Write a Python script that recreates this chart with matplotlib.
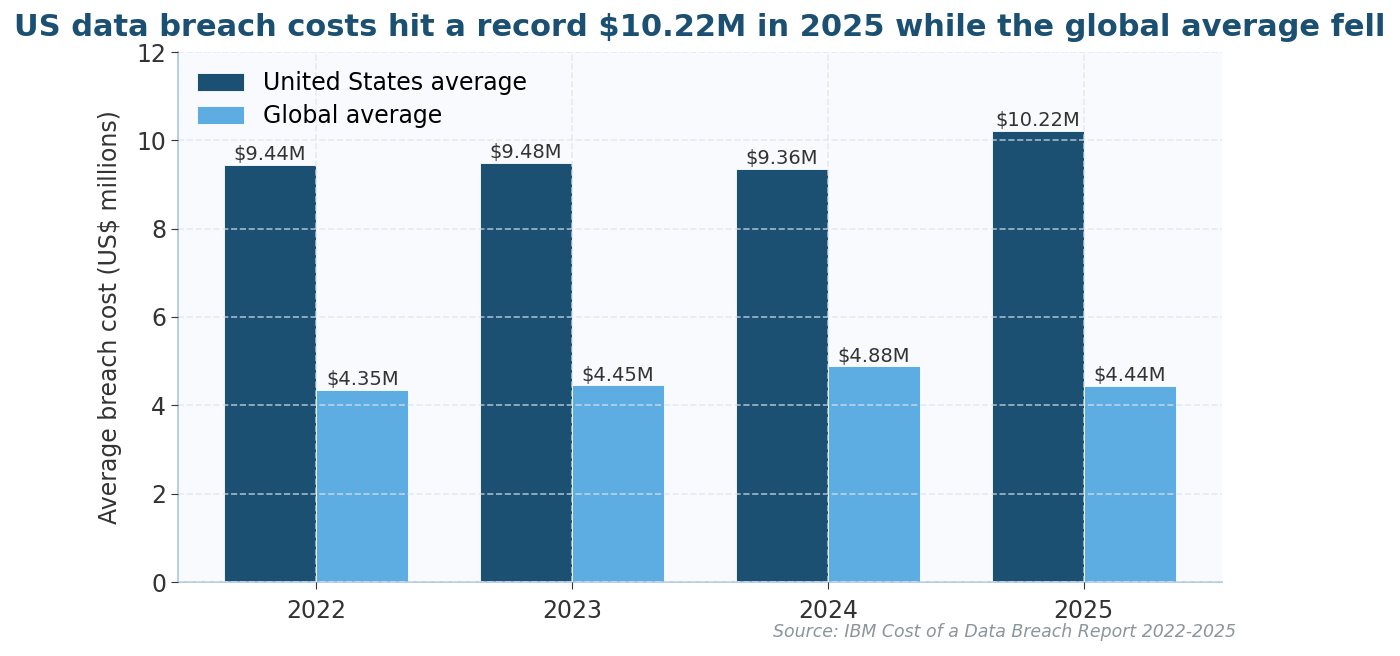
import matplotlib
matplotlib.use("Agg")
import matplotlib.pyplot as plt
import numpy as np

years = ["2022", "2023", "2024", "2025"]
us_avg = [9.44, 9.48, 9.36, 10.22]
global_avg = [4.35, 4.45, 4.88, 4.44]
series_labels = ["United States average", "Global average"]

fig = plt.figure(figsize=(14, 6.56), dpi=100)
ax = fig.add_axes([178/1400, 1-582/656, (1222-178)/1400, (582-52)/656])
ax.set_facecolor("#f8fafd")

x = np.arange(len(years))
w = 0.36
b1 = ax.bar(x - w/2, us_avg, w, color="#1b5072", label=series_labels[0], edgecolor="white", linewidth=0.6)
b2 = ax.bar(x + w/2, global_avg, w, color="#5dade2", label=series_labels[1], edgecolor="white", linewidth=0.6)

for bars, vals in ((b1, us_avg), (b2, global_avg)):
    for r, v in zip(bars, vals):
        ax.text(r.get_x() + r.get_width()/2, v + 0.02, f"${v:.2f}M", ha="center", va="bottom",
                fontsize=14, color="#333333")

ax.set_ylim(0, 12)
ax.set_xlim(-0.54, 3.54)
ax.set_xticks(x)
ax.set_xticklabels(years)
ax.set_yticks(range(0, 13, 2))
ax.tick_params(axis="both", labelsize=17, colors="#333333", length=5)
ax.tick_params(axis="x", pad=7)
ax.set_axisbelow(False)
ax.grid(True, linestyle="--", color="#dde4ee", alpha=0.7, linewidth=1.2)
for s in ("top", "right"):
    ax.spines[s].set_visible(False)
for s in ("left", "bottom"):
    ax.spines[s].set_color("#aac4e2")
    ax.spines[s].set_linewidth(1.2)

ax.set_ylabel("Average breach cost (US$ millions)", fontsize=17, color="#333333", labelpad=10)
fig.text(0.5, 1-28/656, "US data breach costs hit a record $10.22M in 2025 while the global average fell",
         ha="center", va="center", fontsize=22, fontweight="bold", color="#1b5072")

leg = ax.legend(loc="upper left", fontsize=17, frameon=False, handlelength=2.0, handleheight=0.8,
                labelspacing=0.4, borderaxespad=0.4)

fig.text(1236/1400, 1-632/656, "Source: IBM Cost of a Data Breach Report 2022-2025", ha="right", va="center",
         fontsize=12.5, style="italic", color="#8c9599")

fig.savefig("out.png", dpi=100)
